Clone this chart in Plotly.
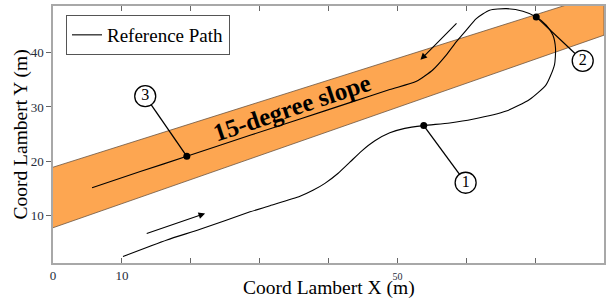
import plotly.graph_objects as go

# ---- data ----
path_x = [10.16, 16.54, 21.36, 28.61, 31.51, 35.86, 37.74, 39.48, 41.36, 43.1, 44.8, 46.73, 48.9, 51.07,
          53.83, 57.6, 60.93, 65.81, 69.19, 71.61, 72.81, 72.96, 72.57, 71.61, 70.16, 68.22, 65.81,
          63.39, 61.46, 60.01, 58.57, 57.12, 55.17, 52.77, 48.9, 43.1, 35.86, 28.61, 19.43, 12.67, 5.67]
path_y = [2.53, 5.57, 7.52, 10.73, 11.86, 13.59, 14.68, 15.96, 17.78, 19.85, 21.9, 23.79, 25.25, 26.07,
          26.58, 27.07, 27.74, 29.25, 31.38, 34.12, 37.76, 40.78, 43.22, 45.05, 46.56, 47.6, 48.07,
          47.78, 46.25, 44.13, 42.0, 39.58, 36.85, 34.72, 33.21, 30.8, 27.8, 24.79, 20.93, 18.14, 15.17]

band_x = [0, 80, 80, 0]
band_y = [18.93, 50.93, 43.2, 7.81]

point_labels = ["1", "2", "3"]
point_x = [53.83, 70.16, 19.43]
point_y = [26.58, 46.56, 20.93]
circle_x = [59.91, 76.91, 13.39]
circle_y = [16.08, 38.49, 31.99]

arrow_tail_x = [13.39, 58.8]
arrow_tail_y = [6.67, 45.65]
arrow_head_x = [22.09, 53.35]
arrow_head_y = [10.44, 38.67]

slope_text = "15-degree slope"
slope_text_x, slope_text_y = 34.75, 29.85

x_tickvals = [0, 10, 20, 30, 40, 50, 60, 70]
x_ticktext = ["0", "10", "", "", "", "<span style='font-size:10px'>50</span>", "", ""]
y_tickvals = [10, 20, 30, 40]
y_ticktext = ["10", "20", "30", "40"]

SERIF = "Liberation Serif"

fig = go.Figure()

# orange band
fig.add_trace(go.Scatter(x=band_x, y=band_y, fill="toself", mode="lines",
                         fillcolor="#FDA651", line=dict(color="#6b5440", width=0.8),
                         showlegend=False, hoverinfo="skip"))

# reference path
fig.add_trace(go.Scatter(x=path_x, y=path_y, mode="lines", name="Reference Path",
                         line=dict(color="black", width=1.1, shape="spline", smoothing=0.6)))

# callout lines
cx, cy = [], []
for px_, py_, qx, qy in zip(point_x, point_y, circle_x, circle_y):
    cx += [px_, qx, None]
    cy += [py_, qy, None]
fig.add_trace(go.Scatter(x=cx, y=cy, mode="lines", line=dict(color="black", width=1.3),
                         showlegend=False, hoverinfo="skip"))

# points on path
fig.add_trace(go.Scatter(x=point_x, y=point_y, mode="markers",
                         marker=dict(color="black", size=7), showlegend=False))

# numbered circles
fig.add_trace(go.Scatter(x=circle_x, y=circle_y, mode="markers+text", text=point_labels,
                         textposition="middle center",
                         textfont=dict(family=SERIF, size=16, color="black"),
                         marker=dict(color="white", size=21, line=dict(color="black", width=1.3)),
                         showlegend=False))

annotations = []
for tx, ty, hx, hy in zip(arrow_tail_x, arrow_tail_y, arrow_head_x, arrow_head_y):
    annotations.append(dict(x=hx, y=hy, ax=tx, ay=ty, xref="x", yref="y", axref="x", ayref="y",
                            text="", showarrow=True, arrowhead=2, arrowsize=1.2, arrowwidth=1.1,
                            arrowcolor="black"))

annotations.append(dict(x=slope_text_x, y=slope_text_y, xref="x", yref="y", text="<b>" + slope_text + "</b>",
                        showarrow=False, textangle=-18.5,
                        font=dict(family=SERIF, size=25, color="black")))

annotations.append(dict(x=0.5, y=0, xref="paper", yref="paper", yanchor="middle", yshift=-25,
                        text="Coord Lambert X (m)", showarrow=False,
                        font=dict(family=SERIF, size=19.5, color="black")))
annotations.append(dict(x=0, y=0.5, xref="paper", yref="paper", xanchor="center", xshift=-33,
                        text="Coord Lambert Y (m)", showarrow=False, textangle=-90,
                        font=dict(family=SERIF, size=19.5, color="black")))

fig.update_layout(
    width=611, height=302,
    margin=dict(l=53, r=7, t=4, b=39),
    paper_bgcolor="white", plot_bgcolor="white",
    annotations=annotations,
    legend=dict(x=0.0236, y=0.965, xanchor="left", yanchor="top",
                bgcolor="white", bordercolor="#555555", borderwidth=1,
                font=dict(family=SERIF, size=19, color="black"),
                itemwidth=30, tracegroupgap=0),
    xaxis=dict(range=[0, 80], tickvals=x_tickvals, ticktext=x_ticktext,
               ticks="inside", ticklen=5, tickcolor="#666666",
               showline=True, linecolor="#a8a8a8", linewidth=1.5, mirror="ticks",
               showgrid=False, zeroline=False,
               tickfont=dict(family=SERIF, size=13, color="#262c3a")),
    yaxis=dict(range=[1.33, 48.56], tickvals=y_tickvals, ticktext=y_ticktext,
               ticks="outside", ticklen=5, tickcolor="#666666",
               showline=True, linecolor="#a8a8a8", linewidth=1.5, mirror=True,
               showgrid=False, zeroline=False,
               tickfont=dict(family=SERIF, size=13, color="#262c3a")),
)

fig.write_html("out.html", config={"displayModeBar": False},
               post_script="document.body.style.margin='0';document.body.style.padding='0';")
